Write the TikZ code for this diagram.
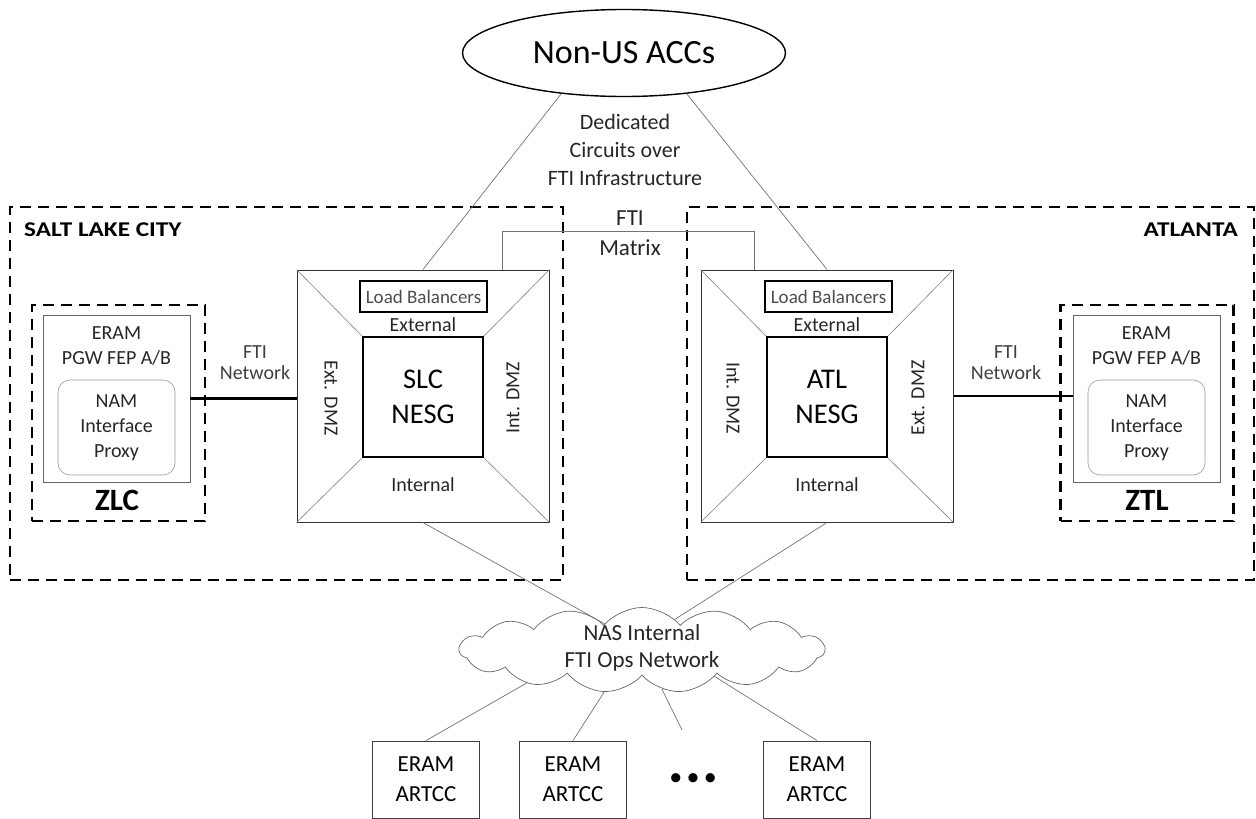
\documentclass[tikz,border=0pt]{standalone}
\usepackage{fontspec}
\setmainfont{Carlito}
\newfontfamily\widefont[FakeStretch=1.2]{Carlito}
\usetikzlibrary{shapes.geometric,shapes.symbols}

\begin{document}
\begin{tikzpicture}[x=1pt, y=-1pt,
    txt/.style={inner sep=0pt, align=center, text=black!85},
    lbl/.style={txt, font=\fontsize{20}{25}\selectfont},
    netlbl/.style={txt, text=black!75, font=\fontsize{20}{21}\selectfont},
    citybox/.style={draw, line width=2.2pt, dash pattern=on 11pt off 7pt, minimum height=373pt},
    cityname/.style={inner sep=0pt, font=\widefont\fontsize{21}{25}\selectfont\bfseries},
    centrebox/.style={draw, line width=2.2pt, dash pattern=on 11pt off 7pt, minimum width=173pt, minimum height=216pt},
    centrename/.style={inner sep=0pt, font=\fontsize{31}{36}\selectfont\bfseries},
    fepbox/.style={draw=black!60, line width=0.8pt, minimum width=147pt, minimum height=167pt},
    nambox/.style={lbl, draw=black!40, line width=0.6pt, rounded corners=12pt, minimum width=117pt, minimum height=95pt},
    nesgbox/.style={draw=black!80, line width=1pt, minimum size=252pt},
    corebox/.style={draw, line width=1.8pt, minimum size=120pt, align=center, font=\fontsize{28.5}{35}\selectfont},
    lbbox/.style={draw, line width=1.5pt, minimum width=127pt, minimum height=31pt, inner sep=0pt, text=black!70, font=\fontsize{19}{22}\selectfont},
    diag/.style={draw=black!50, line width=0.6pt},
    link/.style={draw=black!55, line width=0.7pt},
    ftinet/.style={draw, line width=2.4pt},
    nascloud/.style={draw=black!60, line width=0.7pt, cloud, cloud puffs=15, cloud puff arc=100, cloud ignores aspect, minimum width=365pt, minimum height=85pt, inner sep=0pt},
    artccbox/.style={draw=black!75, line width=0.9pt, minimum width=107pt, minimum height=77pt, align=center, font=\fontsize{23}{30}\selectfont},
  ]
  \useasboundingbox (0,0) rectangle (1256,819);

  % Riquadri delle sedi
  \node[citybox, minimum width=553pt] (slcsite) at (286.5,393.5) {};
  \node[citybox, minimum width=567pt] (atlsite) at (970.5,393.5) {};
  \node[cityname, anchor=west] (slcname) at (24,230) {SALT LAKE CITY};
  \node[cityname, anchor=east] (atlname) at (1238,230) {ATLANTA};

  % Centro ZLC
  \node[centrebox] (zlc) at (118.5,413) {};
  \node[fepbox] (zlcfep) at (116.5,398.5) {};
  \node[lbl] (zlcfeptxt) at (116.5,346) {ERAM\\PGW FEP A/B};
  \node[nambox] (zlcnam) at (116.5,427.5) {NAM\\Interface\\Proxy};
  \node[centrename] (zlcname) at (117,500) {ZLC};

  % Centro ZTL
  \node[centrebox] (ztl) at (1147,413) {};
  \node[fepbox] (ztlfep) at (1146.5,398.5) {};
  \node[lbl] (ztlfeptxt) at (1146.5,346) {ERAM\\PGW FEP A/B};
  \node[nambox] (ztlnam) at (1146.5,427.5) {NAM\\Interface\\Proxy};
  \node[centrename] (ztlname) at (1147,500) {ZTL};

  % NESG di Salt Lake City
  \node[nesgbox] (slc) at (423,396) {};
  \node[corebox] (slccore) at (423,397) {SLC\\NESG};
  \foreach \c in {north west, north east, south west, south east}
    \draw[diag] (slc.\c) -- (slccore.\c);
  \node[lbbox] (slclb) at (423.5,296.5) {Load Balancers};
  \node[lbl] (slcext) at (423,325) {External};
  \node[lbl] (slcint) at (423,485) {Internal};
  \node[lbl, rotate=-90] (slcedmz) at (331,398) {Ext. DMZ};
  \node[lbl, rotate=90] (slcidmz) at (513,398) {Int. DMZ};

  % NESG di Atlanta
  \node[nesgbox] (atl) at (827,396) {};
  \node[corebox] (atlcore) at (827,397) {ATL\\NESG};
  \foreach \c in {north west, north east, south west, south east}
    \draw[diag] (atl.\c) -- (atlcore.\c);
  \node[lbbox] (atllb) at (828.5,296.5) {Load Balancers};
  \node[lbl] (atlext) at (827,325) {External};
  \node[lbl] (atlint) at (827,485) {Internal};
  \node[lbl, rotate=-90] (atlidmz) at (733,398) {Int. DMZ};
  \node[lbl, rotate=90] (atledmz) at (918,398) {Ext. DMZ};

  % Rete FTI verso i centri
  \draw[ftinet] (zlcfep.east) -- (zlcfep.east -| slc.west);
  \node[netlbl] (slcnet) at (255,363) {FTI\\Network};
  \draw[ftinet] (atl.east) -- (atl.east -| ztlfep.west);
  \node[netlbl] (atlnet) at (1006,363) {FTI\\Network};

  % Matrice FTI
  \coordinate (mxl) at (502,270);
  \coordinate (mxr) at (754,270);
  \draw[link] (mxl) -- ++(0,-39) -| (mxr);
  \node[txt, font=\fontsize{23}{30}\selectfont] (matrix) at (630,233) {FTI\\Matrix};

  % ACC esteri
  \node[draw, ellipse, line width=1.4pt, minimum width=323pt, minimum height=87pt, font=\fontsize{34}{40}\selectfont] (acc) at (624,53) {Non-US ACCs};
  \node[txt, font=\fontsize{22}{28}\selectfont] (ded) at (625,150) {Dedicated\\Circuits over\\FTI Infrastructure};
  \draw[link] (acc.213) -- (slc.north);
  \draw[link] (acc.327) -- (atl.north);

  % Rete interna NAS
  \node[nascloud] (nas) at (642,650) {};
  \node[txt, font=\fontsize{23}{27}\selectfont] (nastxt) at (642,648) {NAS Internal\\FTI Ops Network};
  \draw[link] (slc.south) -- (nas.145);
  \draw[link] (atl.south) -- (nas.43);

  % ARTCC
  \node[artccbox] (artcc1) at (426,779.5) {ERAM\\ARTCC};
  \node[artccbox] (artcc2) at (573,779.5) {ERAM\\ARTCC};
  \node[artccbox] (artcc3) at (817,779.5) {ERAM\\ARTCC};
  \node[txt, font=\fontsize{26}{30}\selectfont, text=black] (more) at (693,780) {\textbullet\,\textbullet\,\textbullet};
  \coordinate (moreend) at (682,730);
  \draw[link] (nas.196) -- (artcc1.north);
  \draw[link] (nas.228) -- (artcc2.north);
  \draw[link] (nas.297) -- (moreend);
  \draw[link] (nas.340) -- (artcc3.north);
\end{tikzpicture}
\end{document}
